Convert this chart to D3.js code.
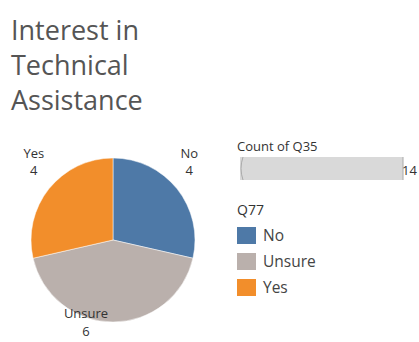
<!DOCTYPE html>
<html>
<head>
<meta charset="utf-8">
<script src="https://cdn.jsdelivr.net/npm/d3@7"></script>
<style>
  body { margin: 0; background: #fff; }
  text { font-family: "Open Sans", sans-serif; }
</style>
</head>
<body>
<svg id="chart"></svg>
<script>
// data
const titleLines = ["Interest in", "Technical", "Assistance"];
const categories = ["No", "Unsure", "Yes"];
const counts = [4, 6, 4];
const colors = ["#4e79a7", "#bab0ac", "#f28e2b"];
const total = 14;
// label nudges (Tableau puts labels outside the pie)
const labelShift = [[-2, -20], [-27, -22], [-1, -20]];
const labelGap = [17.5, 18, 17.5];

const width = 419;
const height = 342;

const svg = d3.select("#chart")
    .attr("width", width)
    .attr("height", height);

// title
svg.append("g")
    .selectAll("text")
    .data(titleLines)
    .enter()
    .append("text")
    .attr("x", 11)
    .attr("y", (d, i) => 40 + i * 35)
    .attr("font-size", 27)
    .attr("fill", "#555")
    .text(d => d);

// pie
const cx = 113, cy = 240, r = 82;
const pie = d3.pie().sort(null).value(d => d.v);
const arcs = pie(categories.map((c, i) => ({ c: c, v: counts[i], col: colors[i] })));
const arc = d3.arc().innerRadius(0).outerRadius(r);
const labelArc = d3.arc().innerRadius(r + 18).outerRadius(r + 18);

const pieG = svg.append("g").attr("transform", `translate(${cx},${cy})`);
pieG.selectAll("path")
    .data(arcs)
    .enter()
    .append("path")
    .attr("d", arc)
    .attr("fill", d => d.data.col)
    .attr("stroke", "#fff")
    .attr("stroke-width", 0.5);

const lbl = pieG.selectAll("g.lbl")
    .data(arcs)
    .enter()
    .append("g")
    .attr("class", "lbl")
    .attr("transform", (d, i) => {
        const p = labelArc.centroid(d);
        return `translate(${p[0] + labelShift[i][0]},${p[1] + labelShift[i][1]})`;
    });
lbl.append("text")
    .attr("text-anchor", "middle")
    .attr("font-size", 13)
    .attr("fill", "#333")
    .text(d => d.data.c);
lbl.append("text")
    .attr("text-anchor", "middle")
    .attr("y", (d, i) => labelGap[i])
    .attr("font-size", 13)
    .attr("fill", "#333")
    .text(d => d.data.v);

// count legend
const xCount = d3.scaleLinear().domain([0, total]).range([240, 403]);
svg.append("text")
    .attr("x", 237)
    .attr("y", 151)
    .attr("font-size", 13)
    .attr("fill", "#333")
    .text("Count of Q35");
svg.append("rect")
    .attr("x", xCount(0))
    .attr("y", 157)
    .attr("width", xCount(total) - xCount(0))
    .attr("height", 23)
    .attr("fill", "#d9d9d9");
svg.append("path")
    .attr("d", `M${xCount(0) + 3},157 Q${xCount(0) - 1},168.5 ${xCount(0) + 3},180`)
    .attr("fill", "none")
    .attr("stroke", "#aaa")
    .attr("stroke-width", 1);
svg.append("line")
    .attr("x1", xCount(total)).attr("x2", xCount(total))
    .attr("y1", 157).attr("y2", 180)
    .attr("stroke", "#aaa");
svg.append("text")
    .attr("x", xCount(total) - 1)
    .attr("y", 175)
    .attr("font-size", 13)
    .attr("fill", "#333")
    .text(total);

// color legend
svg.append("text")
    .attr("x", 237)
    .attr("y", 215)
    .attr("font-size", 14)
    .attr("fill", "#333")
    .text("Q77");
const leg = svg.selectAll("g.leg")
    .data(categories)
    .enter()
    .append("g")
    .attr("class", "leg")
    .attr("transform", (d, i) => `translate(237,${227 + i * 26})`);
leg.append("rect")
    .attr("width", 19)
    .attr("height", 17)
    .attr("fill", (d, i) => colors[i]);
leg.append("text")
    .attr("x", 26)
    .attr("y", 14)
    .attr("font-size", 15.5)
    .attr("fill", "#444")
    .text(d => d);
</script>
</body>
</html>
